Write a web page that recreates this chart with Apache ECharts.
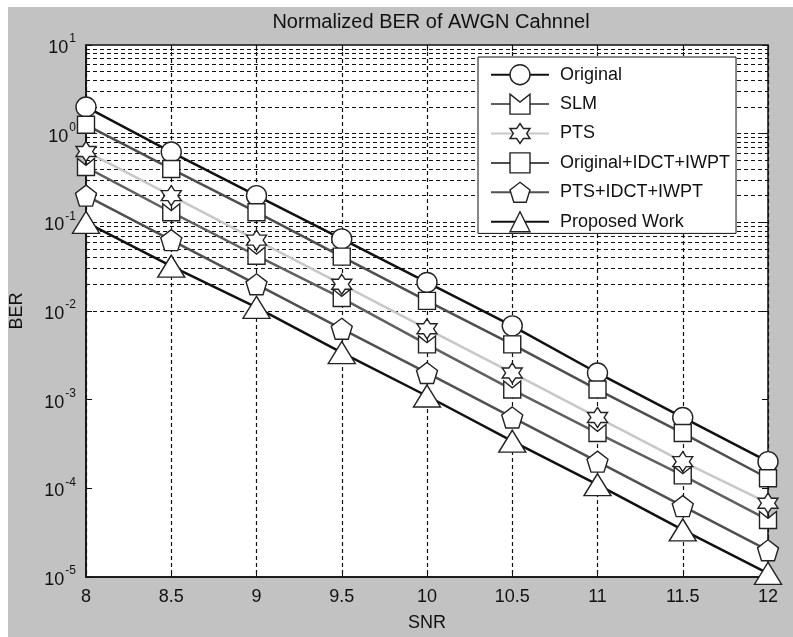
<!DOCTYPE html>
<html>
<head>
<meta charset="utf-8">
<script src="https://cdn.jsdelivr.net/npm/echarts@6/dist/echarts.min.js"></script>
<style>
  html, body { margin: 0; padding: 0; background: #ffffff; }
  #chart { width: 793px; height: 637px; }
</style>
</head>
<body>
<div id="chart"></div>
<script>
// SNR points (dB)
const snr = [8, 8.5, 9, 9.5, 10, 10.5, 11, 11.5, 12];

// BER curves
const berOriginal     = [2.0, 0.62, 0.2, 0.065, 0.021, 0.0068, 0.002, 0.00063, 0.0002];
const berSLM          = [0.42, 0.13, 0.042, 0.014, 0.0042, 0.0013, 0.00042, 0.00014, 0.000044];
const berPTS          = [0.63, 0.2, 0.063, 0.02, 0.0063, 0.002, 0.00063, 0.0002, 0.000068];
const berOrigIdctIwpt = [1.26, 0.4, 0.13, 0.041, 0.013, 0.0042, 0.0013, 0.00042, 0.00013];
const berPtsIdctIwpt  = [0.2, 0.063, 0.02, 0.0063, 0.002, 0.00063, 0.0002, 0.000063, 0.00002];
const berProposed     = [0.1, 0.032, 0.011, 0.0034, 0.0011, 0.00034, 0.00011, 0.000034, 0.000011];

const seriesNames = ['Original', 'SLM', 'PTS', 'Original+IDCT+IWPT', 'PTS+IDCT+IWPT', 'Proposed Work'];

const FONT = 'Liberation Sans, Arial, sans-serif';
const INK = '#111111';

// marker shapes
const symSLM = 'path://M0,0 L50,40 L100,0 L100,100 L0,100 Z';
const symHexagram = 'path://M50,0 L64.4,25 L93.3,25 L78.9,50 L93.3,75 L64.4,75 L50,100 L35.6,75 L6.7,75 L21.1,50 L6.7,25 L35.6,25 Z';
const symPentagon = 'path://M50,0 L100,36.3 L80.9,95.1 L19.1,95.1 L0,36.3 Z';

function line(name, data, color, symbol, size) {
  return {
    name: name,
    type: 'line',
    data: snr.map((x, i) => [x, data[i]]),
    symbol: symbol,
    symbolSize: size,
    showAllSymbol: true,
    lineStyle: { color: color, width: 2.5 },
    itemStyle: { color: '#ffffff', borderColor: '#222222', borderWidth: 1.4, opacity: 1 },
    emphasis: { disabled: true },
    z: 3
  };
}

// dashed grid lines at 1..9 × each decade
const gridValues = [];
for (let e = -5; e <= 0; e++) {
  for (let m = 1; m <= 9; m++) {
    if (e === -5 && m === 1) continue;
    gridValues.push(m * Math.pow(10, e));
  }
}

const chart = echarts.init(document.getElementById('chart'), null, { renderer: 'canvas' });

const supLabel = function (v) {
  const e = Math.round(Math.log10(v));
  return '{b|10}{s|' + e + '}';
};

const tickStyle = { show: true, inside: true, length: 6, lineStyle: { color: INK, width: 1 } };

chart.setOption({
  animation: false,
  backgroundColor: 'transparent',
  textStyle: { fontFamily: FONT },
  graphic: [{
    type: 'rect',
    left: 8, top: 7,
    shape: { width: 785, height: 630 },
    style: { fill: '#c2c2c2' },
    z: -10,
    silent: true
  }],
  title: {
    text: 'Normalized BER of AWGN Cahnnel',
    left: 426,
    top: 7,
    textAlign: 'center',
    textStyle: { fontSize: 20, fontWeight: 'normal', color: INK, fontFamily: FONT }
  },
  grid: {
    left: 84, right: 25, top: 45, bottom: 56,
    show: true,
    backgroundColor: '#ffffff',
    borderColor: INK,
    borderWidth: 1.5
  },
  legend: {
    data: seriesNames,
    orient: 'vertical',
    left: 478,
    top: 57,
    z: 10,
    padding: [7, 6, 1, 12],
    itemWidth: 58,
    itemHeight: 25,
    itemGap: 8,
    backgroundColor: '#ffffff',
    borderColor: INK,
    borderWidth: 1,
    itemStyle: { color: '#ffffff', borderColor: '#222222', borderWidth: 1.4, opacity: 1 },
    textStyle: { fontSize: 18, color: INK, fontFamily: FONT, padding: [0, 0, 0, 6] }
  },
  xAxis: [{
    type: 'value',
    min: 8, max: 12, interval: 0.5,
    name: 'SNR',
    nameLocation: 'middle',
    nameGap: 37,
    nameTextStyle: { fontSize: 18, color: INK },
    axisLine: { show: true, lineStyle: { color: INK, width: 1.5 } },
    axisTick: tickStyle,
    axisLabel: { fontSize: 18, color: INK, margin: 11 },
    splitLine: { show: true, lineStyle: { color: INK, type: [4, 3], width: 1.2 } }
  }, {
    type: 'value',
    position: 'top',
    min: 8, max: 12, interval: 0.5,
    axisLine: { show: false },
    axisTick: tickStyle,
    axisLabel: { show: false },
    splitLine: { show: false }
  }],
  yAxis: [{
    type: 'log',
    min: 1e-5, max: 10,
    logBase: 10,
    name: 'BER',
    nameLocation: 'middle',
    nameGap: 60,
    nameTextStyle: { fontSize: 18, color: INK },
    axisLine: { show: true, lineStyle: { color: INK, width: 1.5 } },
    axisTick: tickStyle,
    axisLabel: {
      formatter: supLabel,
      margin: 10,
      rich: {
        b: { fontSize: 18, color: INK, verticalAlign: 'bottom', lineHeight: 24, fontFamily: FONT },
        s: { fontSize: 12, color: INK, verticalAlign: 'top', lineHeight: 24, padding: [0, 0, 12, 1], fontFamily: FONT }
      }
    },
    splitLine: { show: false }
  }, {
    type: 'log',
    position: 'right',
    min: 1e-5, max: 10,
    logBase: 10,
    axisLine: { show: false },
    axisTick: tickStyle,
    axisLabel: { show: false },
    splitLine: { show: false }
  }],
  series: [
    {
      name: '_grid',
      type: 'line',
      data: [],
      silent: true,
      z: 1,
      markLine: {
        z: 1,
        silent: true,
        symbol: ['none', 'none'],
        label: { show: false },
        animation: false,
        lineStyle: { color: INK, type: [4, 3], width: 1.2 },
        emphasis: { disabled: true },
        data: gridValues.map(v => ({ yAxis: v }))
      }
    },
    line('Original', berOriginal, '#111111', 'circle', 20),
    line('SLM', berSLM, '#606060', symSLM, 17),
    line('PTS', berPTS, '#c8c8c8', symHexagram, 20),
    line('Original+IDCT+IWPT', berOrigIdctIwpt, '#4e4e4e', 'rect', 17),
    line('PTS+IDCT+IWPT', berPtsIdctIwpt, '#505050', symPentagon, 21),
    line('Proposed Work', berProposed, '#111111', 'triangle', [27, 22])
  ]
});
</script>
</body>
</html>
